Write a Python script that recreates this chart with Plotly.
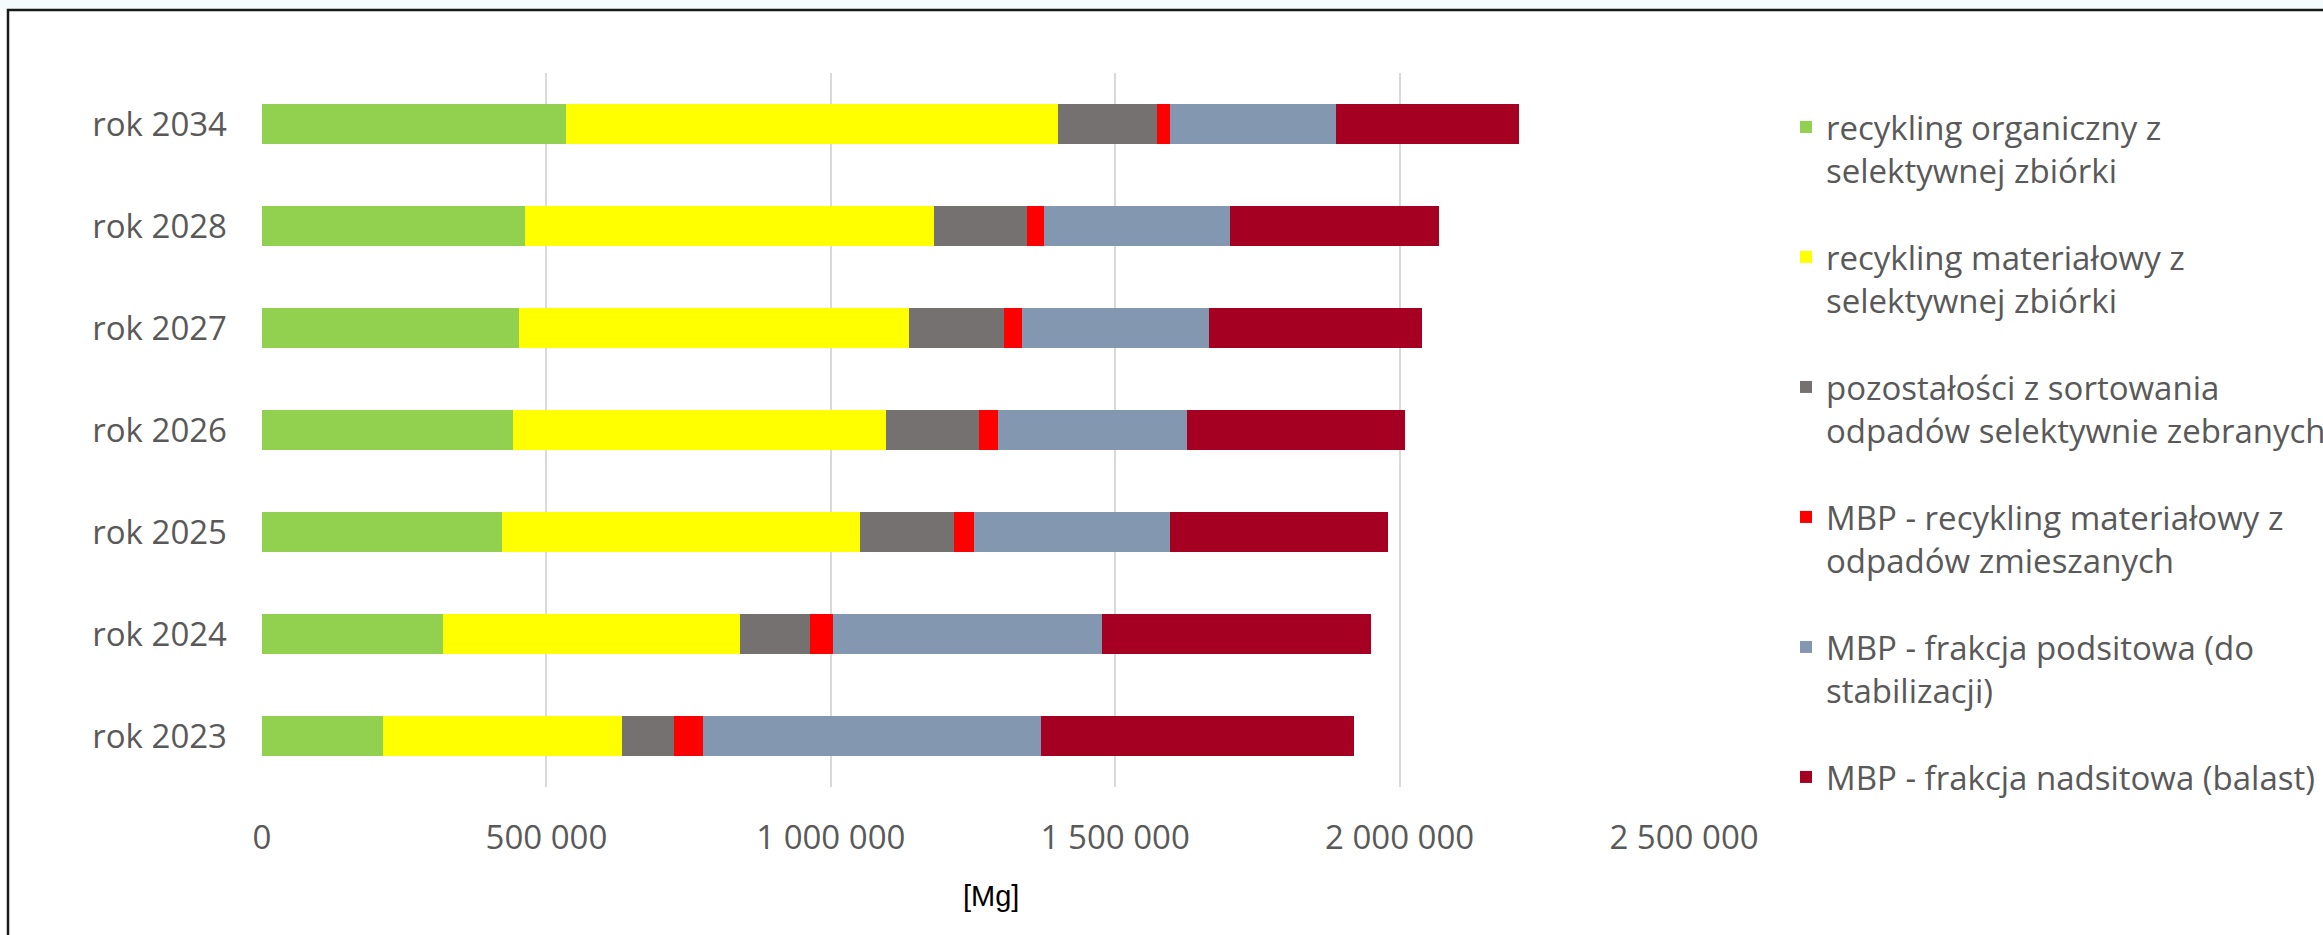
import plotly.graph_objects as go

categories = ["rok 2023", "rok 2024", "rok 2025", "rok 2026", "rok 2027", "rok 2028", "rok 2034"]

series_names = [
    "recykling organiczny z<br>selektywnej zbiórki",
    "recykling materiałowy z<br>selektywnej zbiórki",
    "pozostałości z sortowania<br>odpadów selektywnie zebranych",
    "MBP - recykling materiałowy z<br>odpadów zmieszanych",
    "MBP - frakcja podsitowa (do<br>stabilizacji)",
    "MBP - frakcja nadsitowa (balast)",
]

organic = [212000, 318000, 422000, 441000, 452000, 462000, 535000]
material = [421000, 522000, 630000, 656000, 686000, 719000, 865000]
sorting_residue = [91000, 124000, 164000, 164000, 166000, 164000, 174000]
mbp_recycling = [51000, 40000, 35000, 33000, 32000, 29000, 23000]
mbp_undersize = [594000, 472000, 346000, 333000, 329000, 327000, 292000]
mbp_oversize = [551000, 474000, 382000, 383000, 375000, 369000, 321000]

colors = ["#92d050", "#ffff00", "#767171", "#ff0000", "#8497b0", "#a50021"]

x_ticks = [0, 500000, 1000000, 1500000, 2000000, 2500000]

W, H = 2323, 935
L, R, T, B = 262, 639, 73, 148
PW, PH = W - L - R, H - T - B


def px_x(p):
    return (p - L) / PW


def px_y(p):
    return (H - B - p) / PH


fig = go.Figure()
all_series = [organic, material, sorting_residue, mbp_recycling, mbp_undersize, mbp_oversize]
legend_names = ["legend", "legend2", "legend3", "legend4", "legend5", "legend6"]
for name, vals, col, lg in zip(series_names, all_series, colors, legend_names):
    fig.add_trace(go.Bar(
        y=categories, x=vals, name=name, orientation="h",
        marker=dict(color=col, line=dict(width=0)),
        legend=lg,
    ))

FS = 33
legend_font = dict(family="Open Sans", size=FS, color="#595959")
legend_tops = [99, 229, 359, 489, 619, 749]
layout_legends = {}
for lg, top in zip(legend_names, legend_tops):
    layout_legends[lg] = dict(
        x=px_x(1786), xanchor="left", y=px_y(top), yanchor="top",
        font=legend_font, valign="top", bgcolor="rgba(0,0,0,0)",
        borderwidth=0, itemclick=False,
    )

fig.update_layout(
    width=W, height=H,
    margin=dict(l=L, r=R, t=T, b=B, autoexpand=False),
    barmode="stack", bargap=0.6,
    paper_bgcolor="white", plot_bgcolor="white",
    separators=", ",
    font=dict(family="Open Sans", size=FS, color="#595959"),
    xaxis=dict(
        range=[0, 2500000], tickvals=x_ticks, tickformat=",d",
        showgrid=True, gridcolor="#d9d9d9", gridwidth=1.5, zeroline=False,
        showline=False, ticks="", ticklabelstandoff=28,
        tickfont=dict(family="Open Sans", size=FS, color="#595959"),
    ),
    yaxis=dict(
        showgrid=False, zeroline=False, showline=False, ticks="",
        ticklabelstandoff=34,
        tickfont=dict(family="Open Sans", size=FS, color="#595959"),
    ),
    showlegend=True,
    **layout_legends,
)

fig.add_annotation(
    x=px_x(991), y=px_y(896), xref="paper", yref="paper",
    text="[Mg]", showarrow=False, xanchor="center", yanchor="middle",
    font=dict(family="Liberation Sans", size=29, color="black"),
)

# top strip outside border and chart border
fig.add_shape(type="rect", xref="paper", yref="paper",
              x0=px_x(-5), x1=px_x(W + 5), y0=px_y(9), y1=px_y(-5),
              fillcolor="#f3fbfd", line=dict(width=0), layer="below")
fig.add_shape(type="rect", xref="paper", yref="paper",
              x0=px_x(8), x1=px_x(W + 20), y0=px_y(10), y1=px_y(H + 20),
              fillcolor="rgba(0,0,0,0)", line=dict(width=2.5, color="#1a1a1a"), layer="below")

fig.write_html("out.html")
